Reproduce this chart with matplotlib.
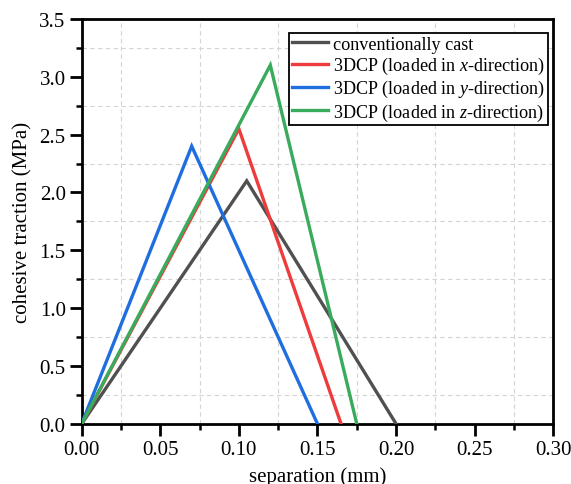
import matplotlib
matplotlib.use("Agg")
import matplotlib.pyplot as plt
from matplotlib.ticker import MultipleLocator, FormatStrFormatter

plt.rcParams['font.family'] = ['Liberation Serif', 'DejaVu Serif']
plt.rcParams['mathtext.fontset'] = 'custom'
plt.rcParams['mathtext.rm'] = 'Liberation Serif'
plt.rcParams['mathtext.it'] = 'Liberation Serif:italic'

labels = ["conventionally cast",
          "3DCP (loaded in $\\mathit{x}$-direction)",
          "3DCP (loaded in $\\mathit{y}$-direction)",
          "3DCP (loaded in $\\mathit{z}$-direction)"]
colors = ["#505050", "#ee3b3b", "#1f6ee0", "#3aaa5c"]
x_cast = [0.0, 0.105, 0.20]
y_cast = [0.0, 2.10, 0.0]
x_xdir = [0.0, 0.10, 0.165]
y_xdir = [0.0, 2.55, 0.0]
x_ydir = [0.0, 0.07, 0.15]
y_ydir = [0.0, 2.40, 0.0]
x_zdir = [0.0, 0.12, 0.175]
y_zdir = [0.0, 3.10, 0.0]

fig = plt.figure(figsize=(5.71, 4.85), dpi=100)
ax = fig.add_axes([0.143, 0.124, 0.826, 0.835])

for xs, ys, c, l in zip([x_cast, x_xdir, x_ydir, x_zdir],
                        [y_cast, y_xdir, y_ydir, y_zdir], colors, labels):
    ax.plot(xs, ys, color=c, lw=2.4, label=l, solid_joinstyle='miter', zorder=3)

ax.set_xlim(0, 0.30)
ax.set_ylim(0, 3.5)
ax.xaxis.set_major_locator(MultipleLocator(0.05))
ax.xaxis.set_minor_locator(MultipleLocator(0.025))
ax.yaxis.set_major_locator(MultipleLocator(0.5))
ax.yaxis.set_minor_locator(MultipleLocator(0.25))
ax.xaxis.set_major_formatter(FormatStrFormatter('%.2f'))
ax.yaxis.set_major_formatter(FormatStrFormatter('%.1f'))

ax.grid(which='minor', linestyle=(0, (4, 3)), color='#d4d4d4', lw=0.8)
ax.grid(which='major', visible=False)
ax.set_axisbelow(True)

for s in ax.spines.values():
    s.set_linewidth(2.0)
ax.tick_params(which='major', direction='out', length=8.5, width=2.0,
               labelsize=15, pad=3)
ax.tick_params(which='minor', direction='out', length=4.3, width=1.8)

ax.set_xlabel('separation (mm)', fontsize=15, labelpad=5)
ax.set_ylabel('cohesive traction (MPa)', fontsize=15, labelpad=5)

leg = ax.legend(loc='upper right', bbox_to_anchor=(0.988, 0.965), fontsize=13.1,
                frameon=True, fancybox=False, edgecolor='black', framealpha=1,
                handlelength=2.0, handletextpad=0.25, labelspacing=0.12,
                borderpad=0.15, borderaxespad=0)
leg.get_frame().set_linewidth(1.3)

fig.savefig('out.png', dpi=100)
